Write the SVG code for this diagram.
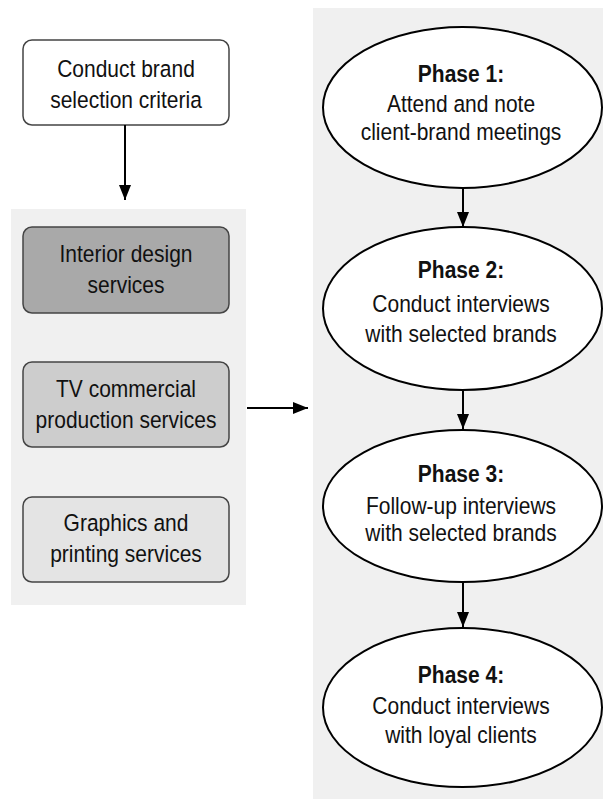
<svg xmlns="http://www.w3.org/2000/svg" width="603" height="799" viewBox="0 0 603 799">
<style>
.t{font-family:"Liberation Sans",Arial,sans-serif;font-size:21px;fill:#111;text-anchor:middle}
.b{font-weight:bold}
.box{stroke:#444;stroke-width:1.5}
.ell{fill:#fff;stroke:#000;stroke-width:2}
.con{stroke:#000;stroke-width:2;fill:none}
</style>
<defs>
<marker id="ah" markerUnits="userSpaceOnUse" markerWidth="16" markerHeight="14" refX="15" refY="6" orient="auto">
<path d="M0,0 L15,6 L0,12 Z" fill="#000"/>
</marker>
</defs>
<rect width="603" height="799" fill="#fff"/>
<rect id="left-panel" x="11" y="209" width="235" height="396" fill="#f0f0f0"/>
<rect id="right-panel" x="313" y="8" width="290" height="791" fill="#f0f0f0"/>
<g id="n-criteria">
<rect class="box" x="23" y="40" width="206" height="85" rx="9" fill="#fff"/>
<text class="t" transform="translate(126,77) scale(1,1.18)">Conduct brand</text>
<text class="t" transform="translate(126,108) scale(1,1.18)">selection criteria</text>
</g>
<g id="n-interior">
<rect class="box" x="23" y="227" width="206" height="86" rx="9" fill="#a9a9a9"/>
<text class="t" transform="translate(126,262) scale(1,1.18)">Interior design</text>
<text class="t" transform="translate(126,293) scale(1,1.18)">services</text>
</g>
<g id="n-tv">
<rect class="box" x="23" y="362" width="206" height="85" rx="9" fill="#cdcdcd"/>
<text class="t" transform="translate(126,397) scale(1,1.18)">TV commercial</text>
<text class="t" transform="translate(126,428) scale(1,1.18)">production services</text>
</g>
<g id="n-graphics">
<rect class="box" x="23" y="497" width="206" height="85" rx="9" fill="#e4e4e4"/>
<text class="t" transform="translate(126,531) scale(1,1.18)">Graphics and</text>
<text class="t" transform="translate(126,562) scale(1,1.18)">printing services</text>
</g>
<g id="n-phase1">
<ellipse class="ell" cx="462.5" cy="107.5" rx="139.5" ry="80.5"/>
<text class="t b" transform="translate(461,82) scale(1,1.18)">Phase 1:</text>
<text class="t" transform="translate(461,112) scale(1,1.18)">Attend and note</text>
<text class="t" transform="translate(461,140) scale(1,1.18)">client-brand meetings</text>
</g>
<g id="n-phase2">
<ellipse class="ell" cx="462.5" cy="308.5" rx="139.5" ry="81.5"/>
<text class="t b" transform="translate(461,278) scale(1,1.18)">Phase 2:</text>
<text class="t" transform="translate(461,312) scale(1,1.18)">Conduct interviews</text>
<text class="t" transform="translate(461,342) scale(1,1.18)">with selected brands</text>
</g>
<g id="n-phase3">
<ellipse class="ell" cx="462.5" cy="506" rx="139.5" ry="76"/>
<text class="t b" transform="translate(461,482) scale(1,1.18)">Phase 3:</text>
<text class="t" transform="translate(461,514) scale(1,1.18)">Follow-up interviews</text>
<text class="t" transform="translate(461,541) scale(1,1.18)">with selected brands</text>
</g>
<g id="n-phase4">
<ellipse class="ell" cx="462.5" cy="707.5" rx="139.5" ry="79.5"/>
<text class="t b" transform="translate(461,683) scale(1,1.18)">Phase 4:</text>
<text class="t" transform="translate(461,714) scale(1,1.18)">Conduct interviews</text>
<text class="t" transform="translate(461,743) scale(1,1.18)">with loyal clients</text>
</g>
<g id="connectors">
<line class="con" x1="125" y1="125" x2="125" y2="200" marker-end="url(#ah)"/>
<line class="con" x1="247" y1="408" x2="308" y2="408" marker-end="url(#ah)"/>
<line class="con" x1="463" y1="188" x2="463" y2="227" marker-end="url(#ah)"/>
<line class="con" x1="463" y1="390" x2="463" y2="429" marker-end="url(#ah)"/>
<line class="con" x1="463" y1="582" x2="463" y2="627" marker-end="url(#ah)"/>
</g>
</svg>
